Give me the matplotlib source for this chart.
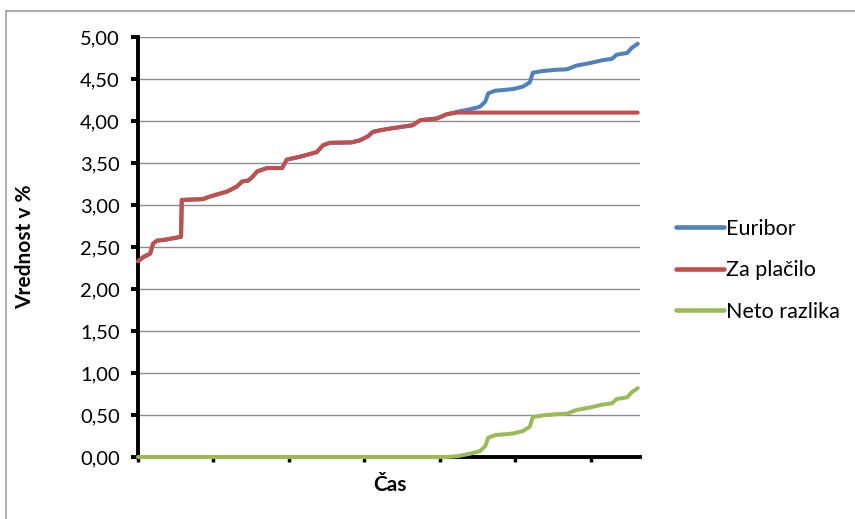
import numpy as np
import matplotlib
matplotlib.use("Agg")
import matplotlib.pyplot as plt
from matplotlib.lines import Line2D

plt.rcParams['font.family'] = ['Lato', 'DejaVu Sans']

# time axis (one unit = one tick interval) and Euribor level in %
t = [0.00, 0.07, 0.16, 0.20, 0.25, 0.38, 0.53, 0.57, 0.58, 0.86, 0.95, 1.18,
     1.31, 1.38, 1.46, 1.51, 1.58, 1.71, 1.91, 1.97, 2.15, 2.37, 2.45, 2.54,
     2.83, 2.94, 3.05, 3.11, 3.21, 3.34, 3.64, 3.74, 3.96, 4.09, 4.23, 4.40,
     4.53, 4.60, 4.64, 4.73, 4.97, 5.10, 5.19, 5.23, 5.36, 5.55, 5.68, 5.81,
     5.99, 6.16, 6.28, 6.34, 6.48, 6.54, 6.62]
euribor = [2.33, 2.38, 2.42, 2.54, 2.575, 2.59, 2.615, 2.62, 3.06, 3.07, 3.10, 3.16,
           3.22, 3.28, 3.29, 3.33, 3.40, 3.44, 3.44, 3.54, 3.575, 3.63, 3.71, 3.74,
           3.745, 3.77, 3.82, 3.87, 3.89, 3.91, 3.95, 4.01, 4.03, 4.08, 4.11, 4.14,
           4.17, 4.23, 4.33, 4.36, 4.38, 4.41, 4.46, 4.575, 4.595, 4.61, 4.615, 4.66,
           4.69, 4.725, 4.74, 4.79, 4.81, 4.87, 4.92]
cap = 4.10  # capped rate paid

za_placilo = np.minimum(euribor, cap)
neto = np.maximum(np.array(euribor) - cap, 0)

yticks = np.arange(0, 5.01, 0.5)
ytick_labels = [f"{v:.2f}".replace('.', ',') for v in yticks]
series = [("Euribor", euribor, '#4F81BD'),
          ("Za plačilo", za_placilo, '#C0504D'),
          ("Neto razlika", neto, '#9BBB59')]

fig = plt.figure(figsize=(8.55, 5.19), dpi=100)
ax = fig.add_axes([138/855, 62/519, 502/855, 420/519])

for name, vals, col in series:
    ax.plot(t, vals, color=col, lw=2.9, label=name, solid_capstyle='round',
            zorder=3, clip_on=False)

ax.set_xlim(0, 6.65)
ax.set_ylim(0, 5)
ax.set_yticks(yticks)
ax.set_yticklabels(ytick_labels)
ax.set_xticks(np.arange(0, 7))
ax.set_xticklabels([])
ax.yaxis.grid(True, color='#8c8c8c', lw=1.0)
ax.set_axisbelow(True)

for s in ['top', 'right']:
    ax.spines[s].set_visible(False)
for s in ['left', 'bottom']:
    ax.spines[s].set_linewidth(2.8)
    ax.spines[s].set_color('black')
ax.tick_params(axis='y', length=5, width=2.8, pad=8, labelsize=14.5, colors='black')
ax.tick_params(axis='x', length=3.5, width=2.5)

ax.set_ylabel("Vrednost v %", fontsize=15, fontweight='bold')
ax.yaxis.set_label_coords(-0.205, 0.5)
ax.text(0.502, -0.067, "Čas", transform=ax.transAxes, ha='center', va='center',
        fontsize=15, fontweight='bold')

leg = ax.legend(loc='upper left', bbox_to_anchor=(1.072, 0.567), frameon=False,
                fontsize=15.5, handlelength=2.2, handletextpad=0.12, labelspacing=1.0,
                borderpad=0, borderaxespad=0)
for h in leg.get_lines():
    h.set_linewidth(3.3)

# chart area frame
fig.add_artist(Line2D([6/855, 1.01], [1 - 11/519, 1 - 11/519], color='#a0a0a0', lw=1.2,
                      transform=fig.transFigure))
fig.add_artist(Line2D([6/855, 6/855], [1 - 11/519, -0.01], color='#a0a0a0', lw=1.2,
                      transform=fig.transFigure))

fig.savefig('out.png', dpi=100)
